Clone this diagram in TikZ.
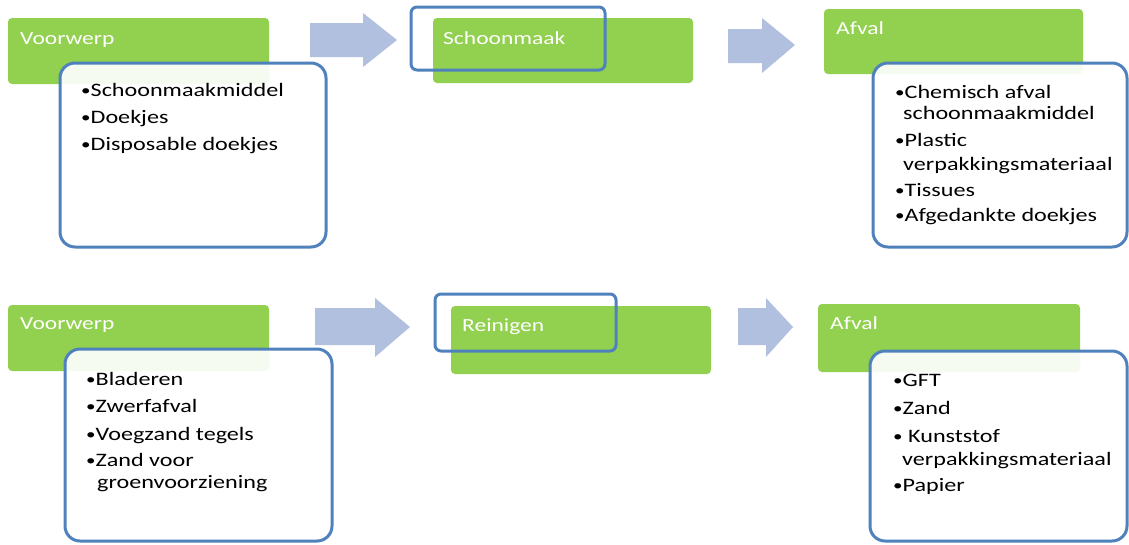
\documentclass[tikz,border=0pt]{standalone}
\usepackage{fontspec}
\setmainfont{Carlito}[FakeStretch=1.27]
\definecolor{sgreen}{RGB}{146,208,80}
\definecolor{sblue}{RGB}{79,129,189}
\definecolor{sarrow}{RGB}{176,192,222}
\newcommand\mybul{{\fontsize{15}{15}\selectfont\raisebox{0.6pt}{•}}}
\begin{document}
\begin{tikzpicture}[x=1pt,y=-1pt,
  greenbox/.style={fill=sgreen,rounded corners=4pt},
  listbox/.style={draw=sblue,line width=3pt,fill=white,fill opacity=0.92,rounded corners=15pt},
  framebox/.style={draw=sblue,line width=3pt,rounded corners=6pt},
  head/.style={anchor=base west,inner sep=0pt,text=white,font=\fontsize{18.5}{22}\selectfont},
  item/.style={anchor=base west,inner sep=0pt,text=black,font=\fontsize{19}{22}\selectfont},
  blockarrow/.style={fill=sarrow}]
\useasboundingbox (0,0) rectangle (1129,544);
\clip (0,0) rectangle (1129,544);
% ---- top row ----
\path[greenbox] (8,18) rectangle (269,84);
\path[greenbox] (433,18) rectangle (693,83);
\path[greenbox] (824,9) rectangle (1083,74);
\node[head] (h1) at (20,44) {Voorwerp};
\node[head] (h2) at (443,44) {Schoonmaak};
\node[head] (h3) at (836,34) {Afval};
\path[listbox] (60,63) rectangle (326,247);
\path[listbox] (873,63) rectangle (1127,247);
\path[framebox] (411,7) rectangle (605,70);
\fill[blockarrow] (310,23) -- (363,23) -- (363,13) -- (397,40) -- (363,67) -- (363,57) -- (310,57) -- cycle;
\fill[blockarrow] (728,29) -- (762,29) -- (762,18) -- (795,45) -- (762,73) -- (762,63) -- (728,63) -- cycle;
\node[item] (a1) at (81,96) {\mybul Schoonmaakmiddel};
\node[item] (a2) at (81,123) {\mybul Doekjes};
\node[item] (a3) at (81,150) {\mybul Disposable doekjes};
\node[item] (c1) at (895,98) {\mybul Chemisch afval};
\node[item] (c1b) at (903,119) {schoonmaakmiddel};
\node[item] (c2) at (895,146) {\mybul Plastic};
\node[item] (c2b) at (903,170) {verpakkingsmateriaal};
\node[item] (c3) at (895,196) {\mybul Tissues};
\node[item] (c4) at (895,221) {\mybul Afgedankte doekjes};
% ---- bottom row ----
\path[greenbox] (8,305) rectangle (269,371);
\path[greenbox] (451,306) rectangle (711,374);
\path[greenbox] (818,304) rectangle (1080,372);
\node[head] (h4) at (20,329) {Voorwerp};
\node[head] (h5) at (462,331) {Reinigen};
\node[head] (h6) at (830,329) {Afval};
\path[listbox] (65,349) rectangle (332,541);
\path[listbox] (870,351) rectangle (1127,541);
\path[framebox] (435,294) rectangle (616,351);
\fill[blockarrow] (315,308) -- (375,308) -- (375,298) -- (410,327) -- (375,357) -- (375,345) -- (315,345) -- cycle;
\fill[blockarrow] (738,308) -- (766,308) -- (766,298) -- (793,327) -- (766,357) -- (766,345) -- (738,345) -- cycle;
\node[item] (b1) at (86,385) {\mybul Bladeren};
\node[item] (b2) at (86,412) {\mybul Zwerfafval};
\node[item] (b3) at (86,440) {\mybul Voegzand tegels};
\node[item] (b4) at (86,466) {\mybul Zand voor};
\node[item] (b4b) at (97,488) {groenvoorziening};
\node[item] (d1) at (893,386) {\mybul GFT};
\node[item] (d2) at (893,414) {\mybul Zand};
\node[item] (d3) at (893,442) {\mybul\ Kunststof};
\node[item] (d3b) at (902,465) {verpakkingsmateriaal};
\node[item] (d4) at (893,491) {\mybul Papier};
\end{tikzpicture}
\end{document}
